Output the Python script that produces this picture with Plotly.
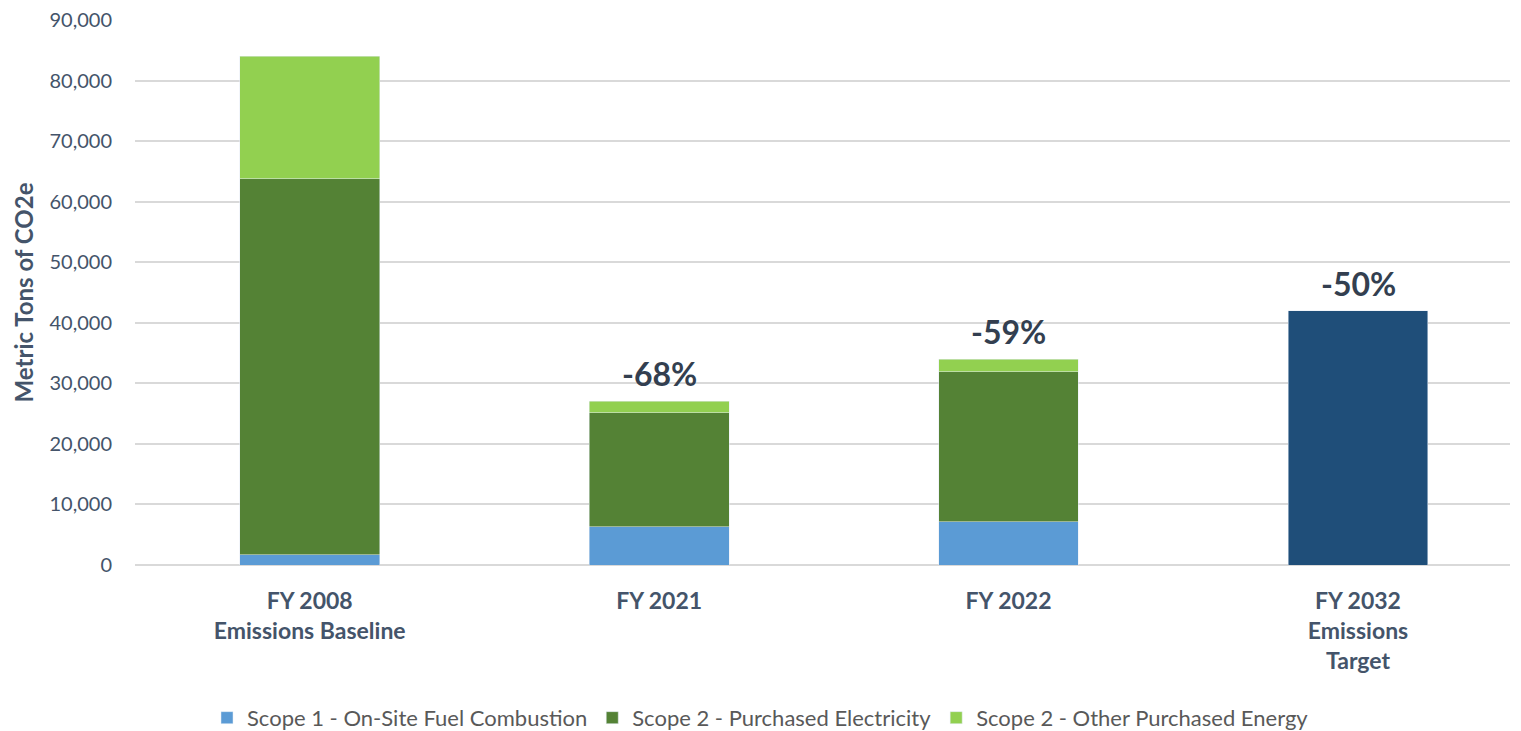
import plotly.graph_objects as go

categories = ["FY 2008<br>Emissions Baseline", "FY 2021", "FY 2022", "FY 2032<br>Emissions<br>Target"]
stack_cats = categories[:3]

scope1_fuel = [1700, 6300, 7150]
scope2_electricity = [62100, 18850, 24750]
scope2_other = [20200, 1900, 2100]
target = [42000]

pct_labels = ["-68%", "-59%", "-50%"]
pct_cats = categories[1:]
pct_totals = [
    scope1_fuel[1] + scope2_electricity[1] + scope2_other[1],
    scope1_fuel[2] + scope2_electricity[2] + scope2_other[2],
    target[0],
]

font = "Lato, 'Open Sans', sans-serif"
txt = "#44546A"

fig = go.Figure()
fig.add_trace(go.Bar(x=stack_cats, y=scope1_fuel, name="Scope 1 - On-Site Fuel Combustion",
                     marker_color="#5B9BD5", width=0.4))
fig.add_trace(go.Bar(x=stack_cats, y=scope2_electricity, name="Scope 2 - Purchased Electricity",
                     marker_color="#548235", width=0.4))
fig.add_trace(go.Bar(x=stack_cats, y=scope2_other, name="Scope 2 - Other Purchased Energy",
                     marker_color="#92D050", width=0.4))
fig.add_trace(go.Bar(x=categories[3:], y=target, name="Target", showlegend=False,
                     marker_color="#1F4E79", width=0.4))

for c, t, lab in zip(pct_cats, pct_totals, pct_labels):
    fig.add_annotation(x=c, y=t, text="<b>%s</b>" % lab, showarrow=False,
                       yanchor="bottom", yshift=6,
                       font=dict(family=font, size=32, color="#333F50"))

fig.update_layout(
    barmode="stack",
    width=1521, height=731,
    margin=dict(l=135, r=11, t=20, b=166),
    plot_bgcolor="white", paper_bgcolor="white",
    font=dict(family=font, color=txt),
    # legend placed relative to the whole figure so it doesn't squeeze the plot area
    legend=dict(orientation="h", xref="container", x=0.5, xanchor="center",
                yref="container", y=0.018, yanchor="middle",
                font=dict(size=22, color="#595959"), traceorder="normal"),
    bargap=0.6,
)
fig.update_xaxes(categoryorder="array", categoryarray=categories,
                 range=[-0.5, 3.435], showline=False, ticks="", automargin=False,
                 ticklabelstandoff=20,
                 tickfont=dict(size=23, color=txt, family=font),
                 tickprefix="<b>", ticksuffix="</b>")
fig.update_yaxes(range=[0, 90000], dtick=10000, tickformat=",d", automargin=False,
                 gridcolor="#D9D9D9", gridwidth=1.5, zeroline=True, zerolinecolor="#D9D9D9",
                 zerolinewidth=1.5, showline=False, ticks="", ticklabelstandoff=22,
                 tickfont=dict(size=20, color=txt, family=font),
                 title=dict(text="<b>Metric Tons of CO2e</b>", font=dict(size=24, color=txt), standoff=9))

# drop the default 8px page margin so the figure fills the window exactly
fig.write_html("out.html", config={"displayModeBar": False},
               post_script="document.body.style.margin='0px';")
